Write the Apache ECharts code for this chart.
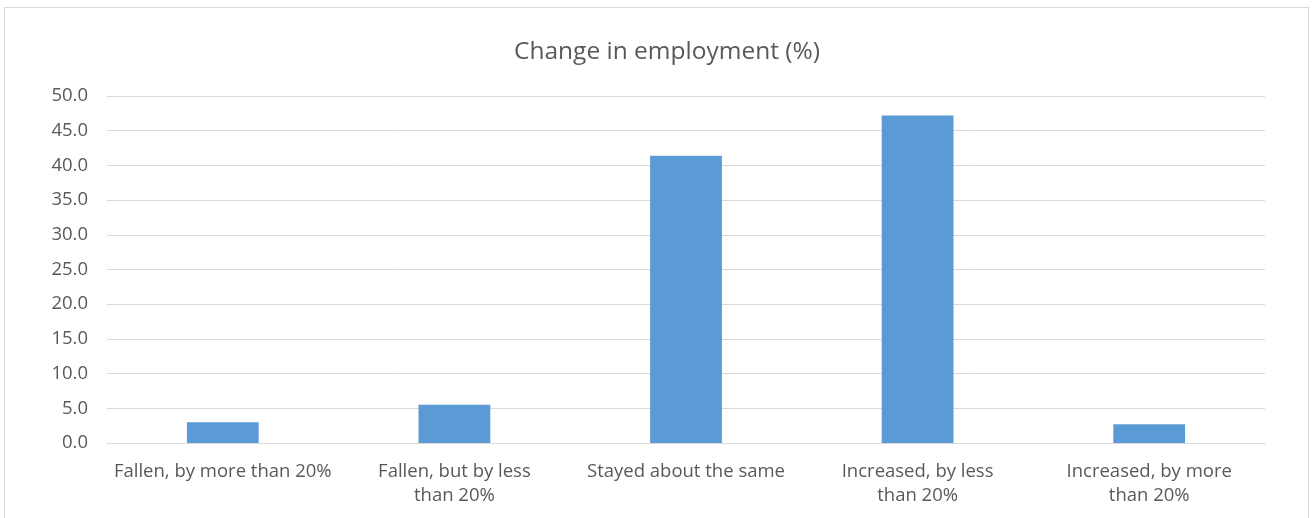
<!DOCTYPE html>
<html>
<head>
<meta charset="utf-8">
<script src="https://cdn.jsdelivr.net/npm/echarts@6/dist/echarts.min.js"></script>
<style>
html,body{margin:0;padding:0;background:#fff;}
#frame{position:absolute;left:4px;top:7px;width:1305px;height:520px;border:1px solid #d9d9d9;box-sizing:border-box;}
#chart{position:absolute;left:0;top:0;width:1314px;height:518px;}
</style>
</head>
<body>
<div id="frame"></div>
<div id="chart"></div>
<script>
const categories = ["Fallen, by more than 20%", "Fallen, but by less than 20%", "Stayed about the same", "Increased, by less than 20%", "Increased, by more than 20%"];
const tickLabels = ["Fallen, by more than 20%", "Fallen, but by less\nthan 20%", "Stayed about the same", "Increased, by less\nthan 20%", "Increased, by more\nthan 20%"];
const values = [3.0, 5.5, 41.4, 47.2, 2.7];
const chartTitle = "Change in employment (%)";

const chart = echarts.init(document.getElementById('chart'));
chart.setOption({
  animation: false,
  textStyle: {fontFamily: "Open Sans"},
  title: {
    text: chartTitle, left: 662, textAlign: 'center', top: 35,
    textStyle: {fontFamily: "Open Sans", fontSize: 24.5, fontWeight: 'normal', color: '#595959'}
  },
  grid: {left: 107, right: 49, top: 96, bottom: 75},
  xAxis: {
    type: 'category', data: categories,
    axisLine: {lineStyle: {color: '#d9d9d9', width: 1}},
    axisTick: {show: false},
    axisLabel: {color: '#595959', fontSize: 18.5, margin: 17, lineHeight: 24, interval: 0,
      formatter: (v, i) => tickLabels[i]}
  },
  yAxis: {
    type: 'value', min: 0, max: 50, interval: 5,
    axisLabel: {color: '#595959', fontSize: 18.5, margin: 19, formatter: v => v.toFixed(1)},
    splitLine: {lineStyle: {color: '#d9d9d9', width: 1}},
    axisLine: {show: false}, axisTick: {show: false}
  },
  series: [{
    type: 'bar', data: values, barWidth: '31%',
    itemStyle: {color: '#5b9bd5'}
  }]
});
</script>
</body>
</html>
